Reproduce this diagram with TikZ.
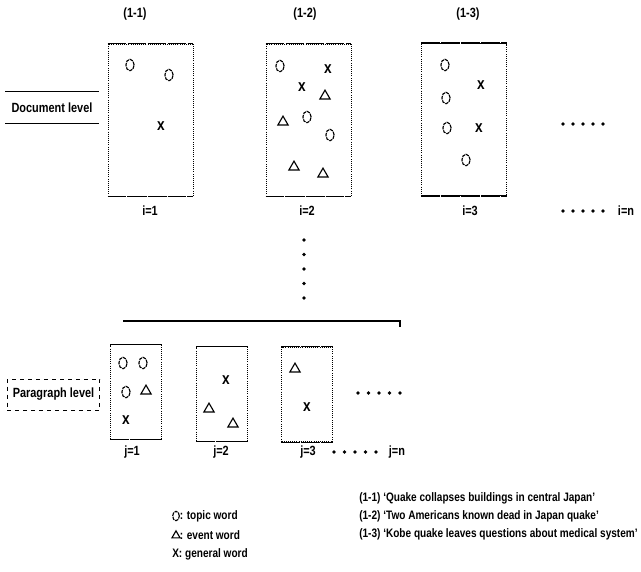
\documentclass[tikz,border=0pt]{standalone}
\usepackage{fontspec}
\setmainfont{Liberation Sans}[FakeStretch=0.82]
\usetikzlibrary{shapes.geometric}

\begin{document}
\begin{tikzpicture}[
    x=0.75pt, y=-0.75pt,
    font=\bfseries\fontsize{10}{12}\selectfont,
    wbox/.style={draw, densely dotted, line width=0.6pt, inner sep=0pt,
                 minimum width=63.75pt, minimum height=114pt},
    pbox/.style={wbox, minimum width=38.25pt, minimum height=71pt},
    rim/.style={line width=1pt, dash pattern=on 14pt off 1pt},
    lvl/.style={inner sep=0pt, minimum width=69.5pt, minimum height=23.25pt},
    topic/.style={ellipse, draw, line width=0.85pt, dash pattern=on 2.6pt off 0.7pt,
                  inner sep=0pt, minimum width=6.2pt, minimum height=8.6pt},
    event/.style={regular polygon, regular polygon sides=3, draw, line width=0.85pt,
                  inner sep=0pt, minimum size=8.8pt},
    general/.style={inner sep=0pt, font=\bfseries\fontsize{12.5}{12.5}\selectfont},
    dot/.style={circle, fill, inner sep=0pt, minimum size=2.8pt},
    leg/.style={anchor=west, inner sep=0pt, font=\bfseries\fontsize{9.2}{11}\selectfont}
]
  \useasboundingbox (0,0) rectangle (641,571);

  % ---------- document level ----------
  \node (t1) at (135,14) {(1-1)};
  \node (t2) at (305,14) {(1-2)};
  \node (t3) at (468,14) {(1-3)};

  \node[wbox] (d1) at (150.5,120) {};
  \node[wbox] (d2) at (308.5,120) {};
  \node[wbox] (d3) at (464,119.5) {};

  \node (i1) at (150,211) {i=1};
  \node (i2) at (307,211) {i=2};
  \node (i3) at (470,211) {i=3};
  \node (in) at (626,211) {i=n};

  \node[lvl] (doclvl) at (52,107.5) {Document level};
  \draw[line width=0.8pt] (doclvl.north west) -- (doclvl.north east)
                          (doclvl.south west) -- (doclvl.south east);

  % ---------- paragraph level ----------
  \node[pbox] (p1) at (136,392) {};
  \node[pbox] (p2) at (222,394) {};
  \node[pbox] (p3) at (307,394.5) {};

  \node (j1) at (132,452) {j=1};
  \node (j2) at (221,452) {j=2};
  \node (j3) at (308,452) {j=3};
  \node (jn) at (397,452) {j=n};

  \node[lvl, draw, dashed, line width=0.7pt] (parlvl) at (53.5,394.5) {Paragraph level};

  % solid top and bottom of every box
  \foreach \b in {d1,d2,d3,p1,p2,p3}
    \draw[rim] (\b.north west) -- (\b.north east)
               (\b.south west) -- (\b.south east);

  % ---------- words ----------
  \foreach \x/\y [count=\k] in {130/65, 169/75, 280/66, 307/117, 330/135,
      445/65, 446/98, 447/128, 466/160, 123/363, 143/363, 126/392}
    \node[topic] (o\k) at (\x,\y) {};
  \foreach \x/\y [count=\k] in {325/96, 283/122, 294/167, 323/174,
      146/391, 209/409, 233/424, 295/369}
    \node[event] (e\k) at (\x,\y) {};
  \foreach \x/\y [count=\k] in {161/126, 328/69, 302/87, 481/85, 479/128,
      126/420, 226/380, 307/407}
    \node[general] (g\k) at (\x,\y) {x};

  % ---------- dots ----------
  \foreach \x [count=\k] in {563,573,583,593,603} {
    \node[dot] (dr\k) at (\x,124) {};
    \node[dot] (di\k) at (\x,211) {};
  }
  \foreach \x [count=\k] in {358,368.5,379,389.5,400}
    \node[dot] (dp\k) at (\x,393) {};
  \foreach \x [count=\k] in {334,344.5,355,365.5,376}
    \node[dot] (dj\k) at (\x,452) {};
  \foreach \y [count=\k] in {240,254.5,269,283.5,298}
    \node[dot] (dv\k) at (304,\y) {};

  % bracket over the paragraphs
  \coordinate (bl) at (123,321);
  \coordinate (br) at (400,321);
  \draw[line width=0.8pt] (bl) -- (br) -- ++(0,6);

  % ---------- legend ----------
  \node[topic, minimum width=5pt, minimum height=7pt] (lo) at (176,516) {};
  \node[leg] (lot) at (179.5,516) {: topic word};
  \node[event, minimum size=7pt] (le) at (176,535.5) {};
  \node[leg] (let) at (179.5,535) {: event word};
  \node[leg] (lg) at (172,554) {X: general word};

  \node[leg] (s1) at (359,498) {(1-1) `Quake collapses buildings in central Japan'};
  \node[leg] (s2) at (359,516) {(1-2) `Two Americans known dead in Japan quake'};
  \node[leg] (s3) at (359,534) {(1-3) `Kobe quake leaves questions about medical system'};
\end{tikzpicture}
\end{document}
